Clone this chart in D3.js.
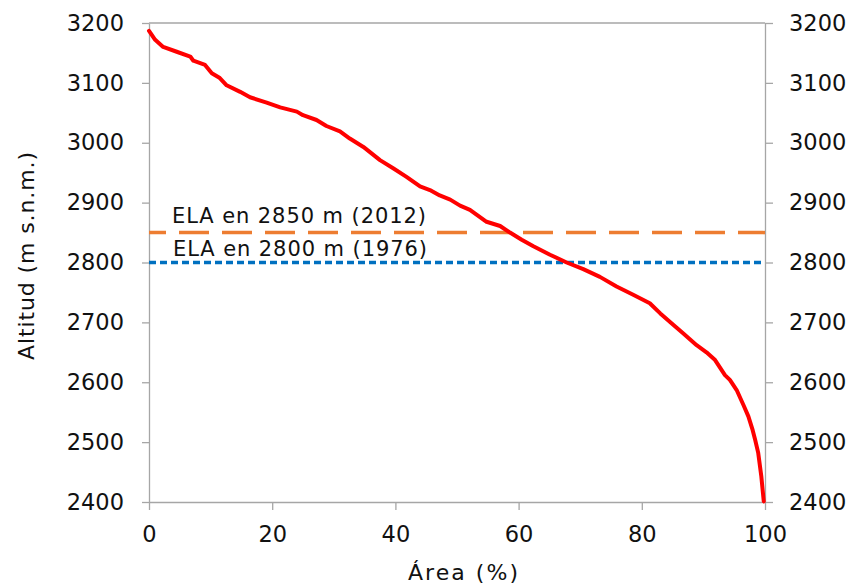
<!DOCTYPE html>
<html><head><meta charset="utf-8">
<script src="https://cdn.jsdelivr.net/npm/d3@7"></script>
<style>body{margin:0;background:#fff;} svg{display:block;font-family:Verdana,"DejaVu Sans",sans-serif;}</style>
</head><body><svg id="c" width="855" height="588"></svg>
<script>
const area = [0,0.2,1,2.3,4.5,6.7,7.2,9.1,10.2,11.5,12.6,14.8,16.4,19.1,21.3,24.0,25.0,27.2,28.8,31.0,32.6,34.8,37.5,39.7,41.8,44.0,45.6,47.2,48.9,50.5,52.1,54.8,57.0,58.6,60.5,62.4,65.1,67.8,70.5,73.2,75.9,78.6,81.3,83.0,85.1,86.7,88.9,90.5,91.9,93.5,94.3,95.4,96.5,97.3,98.0,98.4,98.9,99.4,99.8];
const altitude = [3187,3184,3172,3160,3152,3144,3137,3130,3116,3108,3096,3085,3076,3067,3059,3052,3046,3038,3028,3019,3007,2993,2971,2957,2943,2927,2921,2912,2905,2895,2888,2868,2861,2850,2838,2827,2813,2800,2789,2776,2760,2746,2732,2715,2696,2682,2662,2650,2637,2612,2604,2587,2562,2543,2520,2504,2482,2443,2401];
const elaValues = [2850, 2800];
const elaLabels = ["ELA en 2850 m (2012)", "ELA en 2800 m (1976)"];
const xTicks = [0,20,40,60,80,100];
const yTicks = [2400,2500,2600,2700,2800,2900,3000,3100,3200];

const svg = d3.select("#c");
const L=149, R=765, T=23, B=502;
const x = d3.scaleLinear().domain([0,100]).range([L,R]);
const y = d3.scaleLinear().domain([2400,3200]).range([B,T]);
const grey = "#a6a6a6";
const ink = "#111";

svg.append("line").attr("x1",L).attr("x2",R).attr("y1",T).attr("y2",T).attr("stroke",grey).attr("stroke-width",1.3);

function styleAxis(g){
  g.selectAll("path,line").attr("stroke",grey).attr("stroke-width",1.3);
  g.selectAll("text").attr("fill",ink).style("font-size","22.5px").style("font-family","Verdana,'DejaVu Sans',sans-serif");
}
svg.append("g").attr("transform",`translate(${L},0)`)
  .call(d3.axisLeft(y).tickValues(yTicks).tickSize(7).tickSizeOuter(0).tickPadding(18).tickFormat(d3.format("d")))
  .call(styleAxis);
svg.append("g").attr("transform",`translate(${R},0)`)
  .call(d3.axisRight(y).tickValues(yTicks).tickSize(8).tickSizeOuter(0).tickPadding(16).tickFormat(d3.format("d")))
  .call(styleAxis);
svg.append("g").attr("transform",`translate(0,${B})`)
  .call(d3.axisBottom(x).tickValues(xTicks).tickSize(8).tickSizeOuter(0).tickPadding(16).tickFormat(d3.format("d")))
  .call(styleAxis);

svg.append("line").attr("x1",L).attr("x2",R).attr("y1",y(elaValues[0])).attr("y2",y(elaValues[0]))
  .attr("stroke","#ED7D31").attr("stroke-width",3.5).attr("stroke-dasharray","30,13").attr("stroke-dashoffset",13);
svg.append("line").attr("x1",L).attr("x2",R).attr("y1",y(elaValues[1])).attr("y2",y(elaValues[1]))
  .attr("stroke","#0070C0").attr("stroke-width",3.5).attr("stroke-dasharray","7,4");

svg.append("text").attr("x",172).attr("y",y(elaValues[0])-9.5).text(elaLabels[0]).attr("fill",ink)
  .style("font-size","21px").attr("textLength",254).attr("lengthAdjust","spacing");
svg.append("text").attr("x",173).attr("y",y(elaValues[1])-6.5).text(elaLabels[1]).attr("fill",ink)
  .style("font-size","21px").attr("textLength",254).attr("lengthAdjust","spacing");

svg.append("path").datum(area.map((a,i)=>[a,altitude[i]]))
  .attr("fill","none").attr("stroke","#FF0000").attr("stroke-width",4).attr("stroke-linejoin","round").attr("stroke-linecap","round")
  .attr("d", d3.line().x(d=>x(d[0])).y(d=>y(d[1])));

svg.append("text").attr("transform",`translate(34,256) rotate(-90)`).attr("text-anchor","middle")
  .text("Altitud (m s.n.m.)").attr("fill",ink).style("font-size","22px").attr("textLength",208).attr("lengthAdjust","spacing");
svg.append("text").attr("x",463).attr("y",580).attr("text-anchor","middle")
  .text("Área (%)").attr("fill",ink).style("font-size","22px").attr("textLength",110).attr("lengthAdjust","spacing");
</script></body></html>
